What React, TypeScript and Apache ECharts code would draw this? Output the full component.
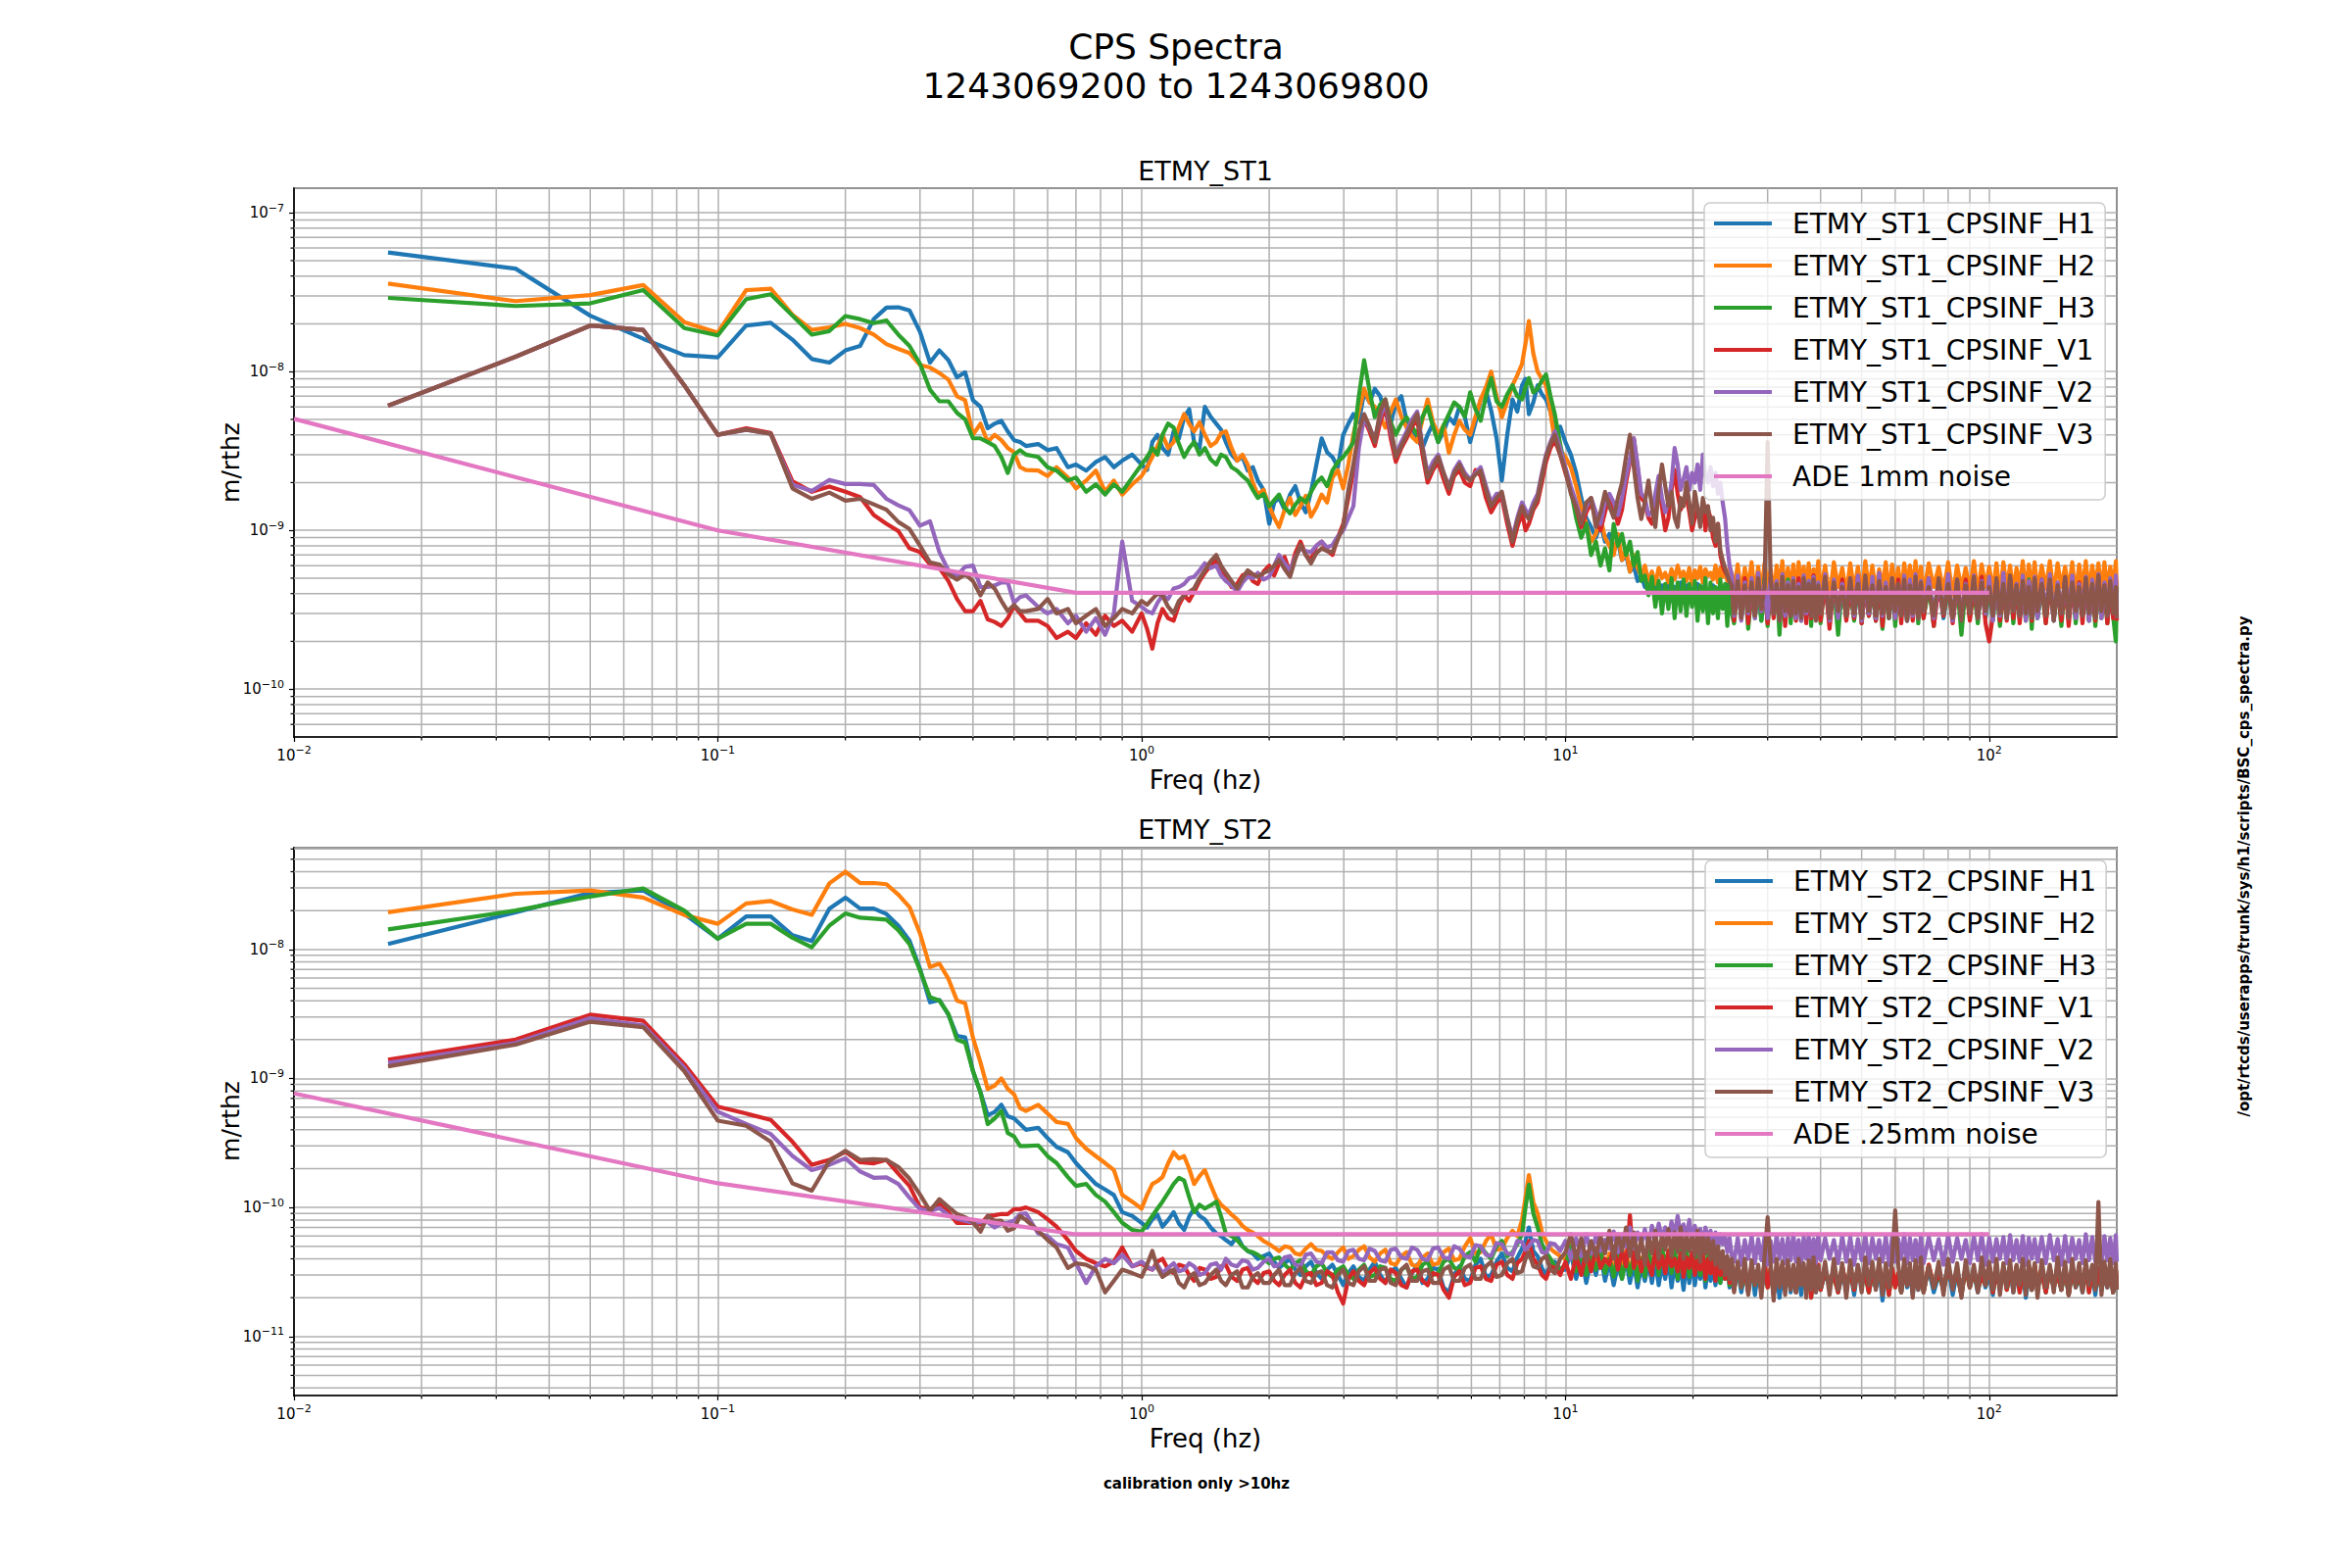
import React, { useEffect, useRef } from "react";
import * as echarts from "echarts";

// ---------- frequency bins (Hz) ----------
const FREQ = [
  // 1/60 Hz bins
  0.01667, 0.03333, 0.05, 0.06667, 0.08333, 0.1, 0.11667, 0.13333, 0.15, 0.16667,
  0.18333, 0.2, 0.21667, 0.23333, 0.25, 0.26667, 0.28333, 0.3, 0.31667, 0.33333,
  0.35, 0.36667, 0.38333, 0.4, 0.41667, 0.43333, 0.45, 0.46667, 0.48333, 0.5,
  0.51667, 0.53333,
  0.57, 0.6, 0.63, 0.67, 0.7, 0.74, 0.78, 0.82, 0.86, 0.9, 0.95,
  // 1 - 9.72 Hz
  1.0, 1.03, 1.06, 1.09, 1.12, 1.155, 1.19, 1.225, 1.26, 1.295, 1.33, 1.37, 1.41, 1.455, 1.5, 1.54, 1.58, 1.63, 1.68, 1.73,
  1.78, 1.83, 1.88, 1.94, 2.0, 2.055, 2.11, 2.175, 2.24, 2.305, 2.37, 2.44, 2.51, 2.585, 2.66, 2.74, 2.82, 2.905, 2.99, 3.075,
  3.16, 3.255, 3.35, 3.45, 3.55, 3.655, 3.76, 3.87, 3.98, 4.1, 4.22, 4.345, 4.47, 4.6, 4.73, 4.87, 5.01, 5.16, 5.31, 5.465,
  5.62, 5.79, 5.96, 6.135, 6.31, 6.495, 6.68, 6.88, 7.08, 7.29, 7.5, 7.7, 7.9, 8.05, 8.2, 8.4, 8.6, 8.8, 9.0, 9.22,
  9.44, 9.72,
  // 10 - 24.7 Hz
  10.0, 10.3, 10.6, 10.9, 11.2, 11.5, 11.8, 12.1, 12.4, 12.7, 13.0, 13.3, 13.6, 13.9, 14.2, 14.5, 14.8, 15.1, 15.4, 15.7,
  16.0, 16.3, 16.6, 16.9, 17.2, 17.5, 17.8, 18.1, 18.4, 18.7, 19.0, 19.3, 19.6, 19.9, 20.2, 20.5, 20.8, 21.1, 21.4, 21.7,
  22.0, 22.3, 22.6, 22.9, 23.2, 23.5, 23.8, 24.1, 24.4, 24.7,
  // 25 - 39.5 Hz
  25, 25.5, 26, 26.5, 27, 27.5, 28, 28.5, 29, 29.5, 30, 30.5, 31, 31.5, 32, 32.5, 33, 33.5, 34, 34.5,
  35, 35.5, 36, 36.5, 37, 37.5, 38, 38.5, 39, 39.5,
  // 40 - 69 Hz
  40, 41, 42, 43, 44, 45, 46, 47, 48, 49, 50, 51, 52, 53, 54, 55, 56, 57, 58, 59,
  60, 61, 62, 63, 64, 65, 66, 67, 68, 69,
  // 70 - 128 Hz
  70, 72, 74, 76, 78, 80, 82, 84, 86, 88, 90, 92, 94, 96, 98, 100, 102, 104, 106, 108,
  110, 112, 114, 116, 118, 120, 122, 124, 126, 128,
  // 130 - 200 Hz
  130, 133, 136, 139, 142, 145, 148, 151, 154, 157, 160, 163, 166, 169, 172, 175, 178, 181, 184, 187,
  190, 193, 196, 199, 200,
];

// ---------- ETMY_ST1 (values in units of 1e-11 m/rthz) ----------
const ST1_H1 = [
  5630, 4450, 2250, 1610, 1270, 1230, 1950, 2030, 1590, 1200, 1140, 1360, 1450, 2140, 2530, 2540, 2430, 1780, 1140, 1360, 1180, 920, 990, 660, 600, 440, 470, 490, 420, 370, 360, 340,
  350, 320, 330, 250, 260, 238, 270, 290, 250, 275, 300,
  260, 240, 360, 400, 330, 300, 420, 380, 516, 580, 360, 330, 600, 520, 470, 430, 360, 300, 275, 290,
  238, 250, 206, 180, 110, 150, 160, 135, 168, 190, 150, 130, 175, 260, 380, 310, 290, 250, 400, 470,
  540, 480, 740, 640, 780, 700, 540, 470, 635, 700, 490, 420, 380, 330, 400, 470, 360, 420, 516, 470,
  600, 520, 360, 480, 668, 760, 570, 380, 206, 400, 668, 560, 820, 900, 540, 640, 820, 720, 668, 560,
  400, 450,
  360, 300, 230, 160, 120, 105, 90, 110, 85, 95, 75, 85, 65, 70, 55, 60, 48, 52, 44, 50,
  41, 47, 38, 45, 40, 46, 36, 44, 39, 47, 35, 45, 38, 43, 36, 46, 39, 44, 35, 42,
  38, 45, 34, 43, 37, 44, 35, 46, 33, 44,
  30, 46, 28, 44, 31, 47, 29, 43, 27, 45, 32, 48, 29, 44, 30, 46, 27, 43, 31, 47, 28, 45, 30, 44, 29, 48, 31, 43, 28, 46,
  30, 45, 27, 47, 31, 44, 29, 46, 28, 43, 32, 47, 29, 45, 27, 44, 30, 48, 28, 46, 31, 43, 29, 45, 27, 47, 30, 44, 28, 46,
  29, 45, 31, 47, 28, 43, 30, 46, 27, 44, 31, 48, 29, 45, 28, 43, 30, 47, 27, 46, 29, 44, 31, 45, 28, 47, 30, 43, 29, 46,
  28, 44, 30, 47, 27, 45, 31, 43, 29, 46, 28, 48, 30, 44, 27, 45, 31, 46, 29, 43, 28, 47, 30, 44, 29,
];
const ST1_H2 = [
  3580, 2780, 3030, 3510, 2050, 1760, 3260, 3330, 2280, 1830, 1900, 2000, 1880, 1710, 1490, 1390, 1310, 1100, 1060, 980, 890, 700, 660, 400, 470, 360, 400, 370, 330, 310, 250, 240,
  238, 220, 250, 215, 184, 206, 238, 175, 206, 168, 195,
  220, 250, 290, 340, 400, 330, 360, 450, 540, 470, 420, 480, 400, 340, 360, 410, 420, 330, 275, 300,
  260, 200, 168, 180, 142, 120, 105, 135, 160, 125, 142, 165, 122, 140, 168, 150, 215, 240, 184, 260,
  400, 560, 780, 640, 600, 520, 444, 560, 668, 520, 444, 390, 360, 500, 668, 480, 400, 460, 308, 400,
  490, 430, 400, 520, 668, 800, 1000, 700, 516, 650, 820, 950, 1120, 1500, 2080, 1300, 1000, 900, 820, 560,
  360, 320,
  290, 250, 190, 140, 110, 85, 95, 120, 90, 80, 70, 95, 65, 75, 55, 70, 58, 52, 60, 48,
  55, 46, 58, 50, 54, 47, 57, 49, 60, 51, 55, 48, 58, 46, 56, 50, 59, 47, 57, 52,
  54, 49, 60, 47, 58, 51, 56, 48, 59, 53,
  42, 61, 40, 58, 44, 63, 39, 59, 41, 62, 43, 57, 38, 60, 45, 64, 40, 58, 42, 61, 39, 63, 44, 59, 41, 62, 40, 57, 43, 64,
  41, 60, 38, 63, 44, 58, 40, 62, 42, 59, 39, 64, 43, 60, 41, 57, 44, 63, 40, 61, 42, 58, 39, 62, 45, 60, 41, 64, 43, 59,
  40, 62, 44, 59, 41, 63, 39, 60, 43, 58, 42, 64, 40, 61, 44, 59, 41, 62, 39, 63, 43, 60, 41, 58, 44, 64, 40, 61, 42, 63,
  41, 60, 43, 64, 40, 62, 44, 59, 42, 63, 39, 61, 43, 64, 41, 60, 44, 62, 40, 63, 42, 59, 43, 64, 41,
];
const ST1_H3 = [
  2910, 2590, 2690, 3260, 1880, 1690, 2860, 3070, 2250, 1710, 1800, 2240, 2140, 2020, 2100, 1710, 1450, 1120, 770, 650, 650, 550, 500, 380, 380, 360, 340, 290, 230, 300, 320, 300,
  290, 250, 238, 206, 215, 175, 195, 168, 195, 175, 215,
  260, 290, 330, 300, 400, 470, 444, 350, 290, 330, 360, 300, 330, 280, 260, 300, 290, 250, 238, 220,
  206, 180, 160, 170, 142, 155, 168, 140, 128, 145, 160, 150, 175, 200, 215, 190, 238, 270, 290, 320,
  360, 700, 1180, 760, 516, 620, 668, 480, 400, 470, 516, 450, 400, 520, 600, 450, 360, 460, 540, 640,
  600, 520, 740, 580, 490, 700, 910, 650, 600, 720, 820, 700, 668, 800, 910, 740, 780, 880, 960, 700,
  540, 350,
  238, 180, 120, 90, 110, 70, 85, 60, 77, 56, 110, 80, 95, 70, 85, 60, 73, 48, 52, 39,
  51, 33, 48, 30, 46, 32, 50, 28, 47, 31, 49, 29, 46, 33, 48, 27, 45, 31, 50, 26,
  47, 30, 44, 28, 49, 32, 46, 25, 48, 30,
  26, 44, 29, 48, 24, 42, 28, 46, 27, 50, 25, 43, 30, 47, 22, 45, 28, 49, 26, 44, 29, 46, 27, 42, 30, 48, 25, 45, 28, 43,
  26, 47, 29, 44, 22, 46, 28, 42, 27, 49, 26, 45, 29, 43, 27, 46, 24, 44, 28, 47, 25, 43, 29, 46, 27, 42, 30, 48, 26, 45,
  28, 44, 25, 47, 29, 43, 27, 46, 22, 45, 28, 42, 26, 48, 29, 44, 27, 46, 25, 43, 28, 47, 26, 45, 29, 42, 27, 49, 24, 46,
  28, 44, 26, 47, 29, 43, 25, 45, 28, 48, 26, 44, 29, 42, 27, 46, 25, 45, 28, 43, 26, 47, 29, 20, 44,
];
const ST1_V1 = [
  610, 1240, 1950, 1830, 820, 400, 440, 410, 204, 175, 189, 175, 162, 125, 110, 99, 77, 73, 61, 58, 48, 37, 31, 31, 36, 27.5, 26.5, 25, 28, 33.5, 30, 27,
  27, 25, 21, 23, 21, 26, 22, 29, 25, 27, 23,
  30, 24, 18, 26, 32, 28, 27, 34, 39, 36, 41, 48, 54, 60, 65, 55, 51, 44, 46, 52,
  54, 48, 46, 55, 60, 52, 62, 68, 54, 72, 85, 70, 65, 80, 85, 75, 70, 90, 110, 160,
  238, 380, 500, 420, 340, 480, 600, 380, 270, 330, 380, 450, 500, 300, 200, 240, 270, 210, 170, 220,
  240, 200, 190, 240, 220, 160, 130, 150, 160, 110, 80, 105, 130, 100, 110, 135, 150, 200, 270, 330,
  370, 300,
  230, 180, 140, 105, 130, 150, 120, 100, 130, 165, 140, 110, 135, 200, 270, 380, 250, 160, 150, 120,
  110, 150, 195, 140, 100, 120, 180, 240, 170, 135, 150, 165, 130, 100, 120, 135, 110, 150, 100, 135,
  120, 90, 80, 110, 70, 60, 55, 52, 48, 50,
  27, 46, 30, 50, 26, 44, 29, 48, 31, 45, 26, 51, 28, 43, 30, 49, 25, 46, 29, 44, 27, 50, 30, 47, 26, 45, 28, 52, 29, 43,
  27, 48, 24, 46, 30, 49, 27, 45, 28, 51, 26, 44, 29, 47, 27, 50, 25, 46, 30, 44, 28, 49, 26, 45, 29, 48, 27, 44, 30, 46,
  28, 50, 25, 45, 29, 47, 26, 44, 30, 49, 27, 46, 28, 51, 26, 20, 29, 48, 27, 45, 27, 50, 28, 46, 26, 44, 30, 48, 27, 45,
  29, 49, 26, 46, 28, 44, 27, 50, 25, 45, 29, 47, 26, 48, 28, 44, 27, 51, 29, 46, 26, 45, 28, 49, 27,
];
const ST1_V2 = [
  610, 1240, 1950, 1830, 820, 400, 430, 405, 194, 177, 208, 196, 196, 193, 158, 144, 134, 107, 114, 73, 56, 52, 59, 60, 44, 44, 45, 47, 47, 35, 38, 39,
  33, 30, 32, 26, 29, 23, 28, 22, 30, 85, 36,
  33, 31, 30, 35, 39, 37, 43, 44, 46, 50, 51, 56, 62, 58, 60, 52, 48, 45, 41, 47,
  51, 50, 54, 49, 51, 60, 70, 62, 56, 68, 77, 74, 73, 80, 85, 78, 81, 92, 100, 120,
  142, 330, 516, 440, 380, 520, 640, 420, 300, 360, 420, 500, 560, 340, 230, 270, 300, 230, 190, 240,
  270, 230, 210, 230, 250, 190, 150, 170, 170, 120, 90, 120, 150, 135, 125, 150, 170, 230, 300, 360,
  420, 330,
  250, 190, 150, 115, 140, 160, 130, 110, 150, 170, 150, 125, 160, 220, 280, 380, 260, 170, 160, 125,
  130, 170, 220, 160, 130, 150, 200, 330, 260, 180, 210, 250, 180, 230, 200, 260, 180, 300, 220, 200,
  250, 190, 230, 170, 200, 150, 120, 80, 60, 52,
  29, 52, 27, 47, 30, 50, 28, 54, 31, 46, 28, 51, 30, 48, 27, 53, 29, 47, 31, 50, 28, 46, 27, 52, 30, 48, 29, 51, 28, 47,
  30, 53, 27, 49, 28, 46, 31, 50, 29, 52, 27, 48, 30, 51, 28, 54, 29, 47, 31, 50, 28, 46, 30, 52, 27, 49, 29, 53, 28, 48,
  31, 50, 28, 47, 30, 53, 27, 49, 29, 46, 31, 52, 28, 48, 30, 51, 27, 47, 29, 54, 28, 50, 31, 46, 29, 52, 27, 48, 30, 51,
  28, 49, 31, 53, 27, 47, 30, 50, 29, 52, 28, 46, 31, 51, 27, 49, 30, 53, 28, 47, 29, 50, 31, 52, 28,
];
const ST1_V3 = [
  610, 1240, 1950, 1830, 822, 400, 431, 406, 184, 158, 173, 154, 158, 146, 135, 113, 102, 80, 63, 61, 53, 49, 53, 48, 39, 47, 43, 36, 31, 34, 31, 31,
  32, 37, 30, 32, 26, 29, 32, 25, 28, 32, 30,
  36, 34, 37, 40, 39, 33, 30, 36, 39, 41, 43, 50, 56, 64, 70, 60, 54, 48, 43, 50,
  56, 53, 51, 54, 56, 60, 65, 57, 51, 66, 81, 70, 62, 72, 77, 74, 73, 88, 105, 180,
  260, 420, 540, 450, 360, 560, 668, 450, 290, 340, 400, 470, 540, 330, 215, 250, 290, 230, 184, 230,
  260, 220, 206, 225, 238, 180, 142, 160, 175, 120, 85, 115, 142, 125, 118, 140, 160, 220, 290, 350,
  400, 300,
  238, 170, 140, 110, 150, 160, 105, 130, 175, 142, 120, 160, 200, 290, 400, 250, 160, 118, 150, 206,
  140, 105, 180, 260, 190, 142, 175, 120, 105, 160, 142, 200, 150, 110, 175, 140, 105, 160, 130, 142,
  100, 120, 85, 110, 75, 65, 58, 52, 48, 45,
  30, 48, 28, 45, 31, 47, 29, 50, 32, 44, 360, 49, 30, 46, 27, 51, 31, 45, 29, 48, 30, 44, 28, 50, 31, 46, 29, 49, 27, 45,
  30, 51, 28, 47, 31, 44, 29, 50, 30, 46, 28, 52, 31, 45, 29, 48, 30, 44, 28, 50, 31, 46, 29, 49, 27, 45, 30, 51, 28, 47,
  31, 44, 29, 50, 30, 46, 28, 49, 27, 45, 30, 51, 28, 47, 31, 44, 29, 50, 30, 46, 28, 52, 31, 45, 29, 48, 30, 44, 28, 50,
  31, 46, 29, 49, 27, 45, 30, 51, 28, 47, 31, 44, 29, 50, 30, 46, 28, 52, 31, 45, 29, 48, 30, 44, 28,
];
const ADE_FREQ = [0.01, 0.1, 0.7, 100];
const ADE_1MM = [504, 100, 40.5, 40.5];

// ---------- ETMY_ST2 (values in units of 1e-12 m/rthz) ----------
const ST2_H1 = [
  11000, 19400, 27400, 28600, 18800, 12100, 18000, 18000, 12900, 11600, 20700, 25200, 20700, 20700, 18800, 15300, 11700, 7070, 3890, 4050, 3120, 2140, 2080, 1140, 780, 518, 550, 625, 510, 490, 443, 400,
  415, 345, 295, 268, 221, 182, 152, 138, 125, 92, 86,
  76, 70, 81, 88, 71, 80, 92, 75, 67, 85, 98, 86, 81, 70, 63, 60, 56, 52, 60, 50,
  46, 44, 40, 42, 44, 38, 34, 37, 40, 33, 30, 35, 38, 31, 28, 33, 36, 30, 25, 31,
  35, 29, 27, 33, 38, 30, 26, 32, 34, 28, 24, 31, 36, 26, 28, 34, 33, 24, 22, 30,
  35, 28, 27, 36, 40, 29, 30, 38, 44, 34, 32, 41, 48, 55, 70, 46, 42, 34, 30, 36,
  38, 33,
  33, 45, 28, 42, 26, 40, 30, 44, 27, 38, 25, 36, 28, 40, 26, 37, 24, 35, 27, 38,
  26, 39, 25, 36, 28, 41, 24, 37, 27, 35, 23, 38, 26, 40, 25, 36, 28, 39, 24, 35,
  27, 37, 25, 40, 26, 34, 28, 38, 24, 36,
  24, 34, 22, 31, 25, 35, 21, 33, 23, 30, 26, 34, 22, 32, 20, 31, 24, 35, 22, 33, 25, 30, 21, 34, 23, 32, 26, 29, 22, 35,
  23, 31, 25, 34, 22, 30, 24, 33, 21, 35, 25, 32, 22, 30, 24, 34, 19, 31, 23, 33, 25, 30, 22, 35, 24, 32, 21, 34, 23, 31,
  25, 33, 22, 30, 24, 35, 21, 32, 23, 34, 26, 31, 22, 33, 24, 30, 21, 35, 23, 32, 25, 34, 22, 31, 24, 33, 20, 30, 23, 35,
  24, 32, 22, 34, 25, 31, 23, 33, 21, 35, 24, 30, 22, 33, 25, 32, 21, 34, 23, 31, 24, 35, 22, 30, 24,
];
const ST2_H2 = [
  19400, 27000, 28600, 25200, 18500, 15800, 22700, 23700, 20400, 18500, 32500, 40000, 32700, 32700, 32000, 26600, 21300, 13300, 7300, 7760, 5930, 4010, 3820, 2070, 1330, 830, 880, 1000, 830, 755, 590, 560,
  625, 535, 460, 445, 345, 285, 250, 221, 195, 125, 111,
  98, 125, 152, 160, 172, 220, 268, 240, 250, 200, 152, 175, 195, 150, 118, 105, 98, 88, 81, 72,
  67, 64, 60, 55, 52, 49, 46, 50, 49, 44, 43, 48, 52, 47, 46, 42, 40, 45, 49, 40,
  42, 47, 50, 41, 38, 44, 47, 37, 36, 42, 45, 36, 35, 41, 44, 36, 37, 45, 48, 39,
  40, 50, 58, 44, 45, 55, 62, 47, 48, 58, 66, 60, 80, 120, 178, 110, 90, 65, 55, 48,
  45, 42,
  40, 55, 36, 48, 34, 45, 37, 50, 35, 44, 33, 42, 36, 46, 32, 43, 34, 41, 31, 40,
  35, 45, 33, 42, 36, 47, 32, 44, 34, 41, 31, 43, 35, 40, 33, 46, 32, 42, 34, 39,
  31, 41, 33, 44, 30, 40, 34, 38, 31, 37,
  24, 36, 25, 33, 23, 35, 26, 31, 24, 37, 25, 34, 22, 32, 26, 36, 24, 33, 25, 30, 23, 35, 27, 32, 24, 34, 21, 31, 25, 36,
  24, 33, 26, 30, 23, 35, 25, 32, 24, 34, 26, 31, 23, 33, 25, 36, 24, 32, 22, 34, 25, 31, 23, 35, 26, 33, 24, 30, 25, 34,
  23, 36, 25, 32, 24, 34, 26, 31, 22, 35, 25, 33, 24, 30, 26, 36, 23, 32, 25, 34, 24, 31, 26, 35, 23, 33, 25, 30, 24, 36,
  26, 32, 23, 34, 25, 31, 24, 35, 22, 33, 26, 30, 24, 36, 23, 32, 25, 34, 24, 31, 26, 35, 23, 33, 25,
];
const ST2_H3 = [
  14300, 20000, 25700, 29700, 20000, 12100, 15800, 15800, 12300, 10400, 15300, 19000, 17600, 17300, 17000, 14100, 11000, 6860, 4270, 4010, 3160, 2000, 1890, 1140, 780, 443, 490, 560, 378, 355, 300, 300,
  303, 250, 221, 172, 147, 152, 125, 111, 92, 76, 67,
  65, 75, 86, 98, 111, 130, 152, 170, 162, 120, 92, 105, 98, 104, 111, 85, 63, 60, 56, 50,
  46, 45, 43, 40, 37, 40, 41, 36, 33, 37, 39, 32, 30, 35, 37, 31, 29, 33, 35, 30,
  28, 33, 36, 29, 30, 35, 34, 28, 27, 33, 35, 28, 29, 36, 38, 30, 31, 38, 40, 34,
  33, 42, 45, 38, 50, 44, 40, 50, 55, 42, 45, 52, 62, 100, 150, 90, 70, 52, 45, 40,
  35, 33,
  36, 50, 32, 46, 30, 42, 33, 46, 31, 40, 29, 44, 28, 41, 30, 43, 27, 40, 29, 46,
  33, 48, 30, 50, 34, 46, 31, 49, 28, 47, 32, 50, 29, 45, 33, 48, 30, 46, 27, 44,
  31, 47, 28, 43, 26, 40, 28, 38, 25, 36,
  23, 35, 24, 32, 22, 34, 25, 30, 23, 36, 24, 33, 21, 31, 25, 35, 23, 32, 24, 29, 22, 34, 26, 31, 23, 33, 20, 30, 24, 35,
  23, 32, 25, 29, 22, 34, 24, 31, 23, 33, 25, 30, 22, 32, 24, 35, 23, 31, 21, 33, 24, 30, 22, 34, 25, 32, 23, 29, 24, 33,
  22, 35, 24, 31, 23, 33, 25, 30, 21, 34, 24, 32, 23, 29, 25, 35, 22, 31, 24, 33, 23, 30, 25, 34, 22, 32, 24, 29, 23, 35,
  25, 31, 22, 33, 24, 30, 23, 34, 21, 32, 25, 29, 23, 35, 22, 31, 24, 33, 23, 30, 25, 34, 22, 32, 24,
];
const ST2_V1 = [
  1400, 2000, 3120, 2800, 1290, 605, 534, 477, 323, 214, 234, 270, 224, 220, 234, 183, 147, 100, 97, 107, 92, 76, 76, 76, 74, 86, 87, 89, 89, 97, 97, 100,
  92, 81, 71, 56, 46, 40, 37, 35, 38, 49, 35,
  37, 34, 33, 38, 40, 33, 31, 36, 35, 30, 27, 34, 33, 28, 29, 35, 36, 29, 27, 33,
  34, 28, 26, 31, 32, 27, 25, 30, 33, 26, 24, 30, 31, 25, 26, 32, 30, 22, 18, 28,
  32, 27, 25, 31, 34, 28, 26, 33, 31, 25, 24, 32, 33, 27, 25, 31, 30, 23, 20, 29,
  32, 25, 26, 34, 35, 28, 27, 36, 38, 30, 28, 37, 40, 46, 55, 40, 36, 30, 28, 35,
  34, 30,
  38, 28, 42, 30, 45, 32, 48, 34, 40, 36, 50, 33, 46, 35, 87, 34, 45, 32, 44, 36,
  30, 48, 34, 42, 31, 46, 35, 40, 32, 44, 29, 41, 34, 45, 30, 39, 33, 43, 28, 40,
  31, 38, 27, 42, 30, 36, 28, 39, 26, 35,
  23, 36, 25, 33, 22, 35, 26, 31, 23, 37, 24, 34, 21, 32, 25, 36, 23, 33, 24, 30, 22, 35, 26, 32, 23, 34, 20, 31, 24, 36,
  23, 33, 25, 30, 22, 35, 24, 32, 23, 34, 25, 31, 22, 33, 24, 36, 23, 32, 21, 34, 24, 31, 22, 35, 25, 33, 23, 30, 24, 34,
  22, 36, 24, 32, 23, 34, 25, 31, 21, 35, 24, 33, 23, 30, 25, 36, 22, 32, 24, 34, 23, 31, 25, 35, 22, 33, 24, 30, 23, 36,
  25, 32, 22, 34, 24, 31, 23, 35, 21, 33, 25, 30, 23, 36, 22, 32, 24, 34, 23, 31, 25, 35, 22, 33, 24,
];
const ST2_V2 = [
  1320, 1880, 2930, 2580, 1210, 552, 443, 371, 251, 195, 214, 241, 190, 170, 171, 152, 119, 97, 94, 99, 87, 82, 79, 76, 77, 77, 70, 75, 76, 79, 89, 90,
  63, 60, 52, 49, 37, 26, 35, 40, 37, 43, 35,
  38, 35, 33, 36, 31, 34, 37, 32, 33, 37, 35, 30, 31, 36, 37, 33, 40, 36, 35, 39,
  38, 33, 34, 38, 40, 35, 36, 41, 42, 36, 35, 43, 44, 38, 37, 45, 45, 39, 38, 46,
  47, 40, 39, 48, 46, 39, 38, 47, 48, 41, 40, 49, 47, 40, 39, 48, 49, 41, 40, 50,
  48, 42, 41, 51, 50, 43, 42, 53, 52, 44, 43, 55, 54, 47, 50, 56, 55, 45, 44, 53,
  52, 46,
  55, 40, 58, 42, 62, 44, 60, 46, 56, 48, 65, 45, 62, 50, 70, 48, 64, 52, 68, 50,
  72, 54, 75, 58, 70, 55, 78, 60, 86, 62, 74, 58, 80, 55, 72, 60, 68, 52, 70, 56,
  66, 50, 64, 48, 62, 52, 60, 45, 58, 42,
  38, 58, 36, 56, 40, 60, 37, 57, 39, 59, 36, 55, 38, 61, 40, 57, 37, 58, 39, 62, 38, 56, 36, 59, 40, 60, 38, 57, 37, 61,
  39, 58, 40, 56, 37, 60, 38, 59, 36, 57, 39, 61, 37, 58, 40, 56, 38, 60, 36, 59, 38, 57, 40, 62, 37, 58, 39, 56, 38, 60,
  37, 59, 39, 57, 36, 61, 38, 58, 40, 56, 37, 60, 39, 62, 36, 58, 38, 57, 40, 59, 37, 61, 39, 56, 38, 60, 36, 58, 40, 57,
  38, 59, 37, 61, 39, 57, 36, 60, 38, 58, 40, 56, 37, 62, 39, 59, 38, 57, 36, 60, 39, 58, 37, 61, 38,
];
const ST2_V3 = [
  1240, 1830, 2750, 2500, 1140, 471, 430, 323, 154, 135, 229, 275, 234, 237, 234, 206, 167, 126, 94, 116, 101, 89, 84, 77, 65, 86, 79, 79, 66, 69, 86, 80,
  66, 56, 49, 34, 37, 36, 33, 22, 27, 33, 31,
  29, 36, 46, 34, 29, 31, 33, 26, 24, 29, 31, 25, 26, 30, 33, 27, 25, 30, 32, 24,
  24, 29, 31, 26, 26, 30, 33, 25, 25, 31, 34, 27, 26, 31, 32, 25, 24, 30, 33, 26,
  25, 32, 35, 27, 27, 33, 34, 26, 25, 33, 36, 27, 27, 32, 33, 26, 26, 33, 35, 27,
  27, 34, 36, 28, 28, 35, 38, 29, 30, 37, 40, 31, 32, 40, 45, 35, 34, 40, 42, 33,
  31, 40,
  45, 62, 40, 58, 38, 55, 42, 60, 44, 66, 40, 62, 46, 70, 42, 64, 40, 58, 36, 60,
  44, 66, 40, 62, 47, 68, 42, 64, 45, 70, 40, 63, 46, 60, 42, 66, 38, 62, 44, 58,
  40, 55, 36, 50, 34, 46, 30, 42, 28, 40,
  22, 38, 24, 40, 21, 39, 25, 36, 20, 41, 84, 37, 19, 40, 24, 38, 21, 39, 23, 36, 22, 40, 25, 37, 20, 39, 23, 41, 22, 35,
  24, 38, 21, 40, 23, 37, 20, 39, 24, 36, 22, 41, 25, 38, 23, 40, 21, 37, 24, 39, 95, 36, 22, 40, 25, 37, 20, 39, 23, 41,
  22, 35, 24, 38, 21, 40, 23, 37, 20, 39, 24, 36, 22, 41, 25, 38, 23, 40, 21, 37, 24, 39, 22, 36, 25, 40, 21, 38, 23, 37,
  20, 39, 24, 36, 22, 41, 23, 38, 21, 40, 24, 37, 22, 39, 25, 36, 23, 110, 21, 38, 24, 40, 22, 37, 23,
];
const ADE_025MM = [766, 154, 62, 62];

// ---------- axes ----------
const X_RANGE = [0.01, 200];
const Y1_RANGE = [5.0, 14300];   // 5e-11 .. 1.43e-7 m/rthz
const Y2_RANGE = [3.49, 61400];  // 3.49e-12 .. 6.14e-8 m/rthz
const Y1_EXP_OFFSET = -11;
const Y2_EXP_OFFSET = -12;
const X_MINOR = [
  0.02, 0.03, 0.04, 0.05, 0.06, 0.07, 0.08, 0.09,
  0.2, 0.3, 0.4, 0.5, 0.6, 0.7, 0.8, 0.9,
  2, 3, 4, 5, 6, 7, 8, 9,
  20, 30, 40, 50, 60, 70, 80, 90,
];
const Y1_MINOR = [6, 7, 8, 9, 20, 30, 40, 50, 60, 70, 80, 90, 200, 300, 400, 500, 600, 700, 800, 900, 2000, 3000, 4000, 5000, 6000, 7000, 8000, 9000];
const Y2_MINOR = [4, 5, 6, 7, 8, 9, 20, 30, 40, 50, 60, 70, 80, 90, 200, 300, 400, 500, 600, 700, 800, 900, 2000, 3000, 4000, 5000, 6000, 7000, 8000, 9000, 20000, 30000, 40000, 50000, 60000];

const NAMES_ST1 = ["ETMY_ST1_CPSINF_H1", "ETMY_ST1_CPSINF_H2", "ETMY_ST1_CPSINF_H3", "ETMY_ST1_CPSINF_V1", "ETMY_ST1_CPSINF_V2", "ETMY_ST1_CPSINF_V3", "ADE 1mm noise"];
const NAMES_ST2 = ["ETMY_ST2_CPSINF_H1", "ETMY_ST2_CPSINF_H2", "ETMY_ST2_CPSINF_H3", "ETMY_ST2_CPSINF_V1", "ETMY_ST2_CPSINF_V2", "ETMY_ST2_CPSINF_V3", "ADE .25mm noise"];
const COLORS = ["#1f77b4", "#ff7f0e", "#2ca02c", "#d62728", "#9467bd", "#8c564b", "#e377c2"];

const FONT = "DejaVu Sans";
const GRID_COLOR = "#b0b0b0";
const LINE_W = 4.2;

function pts(fs: number[], ys: number[]) {
  const n = Math.min(fs.length, ys.length);
  const out: number[][] = [];
  for (let i = 0; i < n; i++) out.push([fs[i], ys[i]]);
  return out;
}

function supLabel(offset: number) {
  return (value: number) => {
    const l = Math.log10(value);
    const e = Math.round(l);
    if (Math.abs(l - e) > 1e-6) return "";
    const ex = e + offset;
    return "{b|10}{s|" + (ex < 0 ? "\u2212" + -ex : String(ex)) + "}";
  };
}

const labelRich = {
  b: { fontFamily: FONT, fontSize: 15, color: "#000" },
  s: { fontFamily: FONT, fontSize: 11, color: "#000", padding: [0, 0, 10, 0] },
};

function minorSeries(gi: number, xr: number[], yr: number[], ys: number[]) {
  const data: number[][] = [];
  X_MINOR.forEach((v) => data.push([v, yr[0] * 2, 0]));
  ys.forEach((v) => data.push([xr[0] * 2, v, 1]));
  return {
    type: "custom",
    xAxisIndex: gi,
    yAxisIndex: gi,
    silent: true,
    clip: false,
    z: 1,
    dimensions: ["x", "y", "k"],
    encode: { x: 0, y: 1 },
    data,
    renderItem: (_params: any, api: any) => {
      const k = api.value(2);
      if (k === 0) {
        const v = api.value(0);
        const a = api.coord([v, yr[0]]);
        const b = api.coord([v, yr[1]]);
        return {
          type: "group",
          children: [
            { type: "line", shape: { x1: a[0], y1: a[1], x2: b[0], y2: b[1] }, style: { stroke: GRID_COLOR, lineWidth: 1.5 } },
            { type: "line", shape: { x1: a[0], y1: a[1], x2: a[0], y2: a[1] + 3.5 }, style: { stroke: "#000", lineWidth: 1.2 } },
          ],
        };
      }
      const v = api.value(1);
      const a = api.coord([xr[0], v]);
      const b = api.coord([xr[1], v]);
      return {
        type: "group",
        children: [
          { type: "line", shape: { x1: a[0], y1: a[1], x2: b[0], y2: b[1] }, style: { stroke: GRID_COLOR, lineWidth: 1.5 } },
          { type: "line", shape: { x1: a[0] - 3.5, y1: a[1], x2: a[0], y2: a[1] }, style: { stroke: "#000", lineWidth: 1.2 } },
        ],
      };
    },
  };
}

function lineSeries(name: string, color: string, gi: number, data: number[][]) {
  return {
    type: "line",
    name,
    xAxisIndex: gi,
    yAxisIndex: gi,
    data,
    showSymbol: false,
    symbol: "none",
    silent: true,
    color,
    z: 2,
    lineStyle: { width: LINE_W, color, join: "round", cap: "butt" },
    itemStyle: { color },
  };
}

function xAxis(gi: number) {
  return {
    type: "log",
    logBase: 10,
    gridIndex: gi,
    min: X_RANGE[0],
    max: X_RANGE[1],
    axisLine: { show: true, lineStyle: { color: "#000", width: 1.6 } },
    axisTick: { show: true, inside: false, length: 5, lineStyle: { color: "#000", width: 1.2 } },
    axisLabel: { formatter: supLabel(0), rich: labelRich, margin: 8, showMaxLabel: false, color: "#000" },
    splitLine: { show: true, lineStyle: { color: GRID_COLOR, width: 1.5 } },
  };
}

function yAxis(gi: number, r: number[], off: number) {
  return {
    type: "log",
    logBase: 10,
    gridIndex: gi,
    min: r[0],
    max: r[1],
    axisLine: { show: true, lineStyle: { color: "#000", width: 1.6 } },
    axisTick: { show: true, inside: false, length: 5, lineStyle: { color: "#000", width: 1.2 } },
    axisLabel: { formatter: supLabel(off), rich: labelRich, margin: 10, showMinLabel: false, showMaxLabel: false, color: "#000" },
    splitLine: { show: true, lineStyle: { color: GRID_COLOR, width: 1.5 } },
  };
}

function legend(names: string[], left: number, top: number) {
  return {
    data: names,
    orient: "vertical",
    left,
    top,
    icon: "rect",
    itemWidth: 59,
    itemHeight: 4,
    itemGap: 15,
    padding: [7, 10, 10, 10],
    backgroundColor: "rgba(255,255,255,0.8)",
    borderColor: "#cccccc",
    borderWidth: 1.5,
    borderRadius: 6,
    selectedMode: false,
    formatter: (n: string) => "{t|" + n + "}",
    textStyle: {
      fontFamily: FONT,
      fontSize: 28,
      color: "#000",
      rich: { t: { fontFamily: FONT, fontSize: 28, lineHeight: 28, color: "#000", padding: [0, 0, 0, 16] } },
    },
  };
}

function text(t: string, x: number, y: number, size: number, opts: any = {}) {
  return {
    type: "text",
    x,
    y,
    rotation: opts.rotation || 0,
    silent: true,
    style: {
      text: t,
      fill: "#000",
      fontFamily: FONT,
      fontSize: size,
      fontWeight: opts.bold ? "bold" : "normal",
      align: "center",
      verticalAlign: "middle",
      textAlign: "center",
      textVerticalAlign: "middle",
    },
  };
}

export default function App() {
  const ref = useRef<HTMLDivElement>(null);
  useEffect(() => {
    document.body.style.margin = "0";
    const chart = echarts.init(ref.current as HTMLDivElement, null, { renderer: "svg", width: 2400, height: 1600 });
    const st1 = [ST1_H1, ST1_H2, ST1_H3, ST1_V1, ST1_V2, ST1_V3];
    const st2 = [ST2_H1, ST2_H2, ST2_H3, ST2_V1, ST2_V2, ST2_V3];
    const series: any[] = [minorSeries(0, X_RANGE, Y1_RANGE, Y1_MINOR), minorSeries(1, X_RANGE, Y2_RANGE, Y2_MINOR)];
    st1.forEach((ys, i) => series.push(lineSeries(NAMES_ST1[i], COLORS[i], 0, pts(FREQ, ys))));
    series.push(lineSeries(NAMES_ST1[6], COLORS[6], 0, pts(ADE_FREQ, ADE_1MM)));
    st2.forEach((ys, i) => series.push(lineSeries(NAMES_ST2[i], COLORS[i], 1, pts(FREQ, ys))));
    series.push(lineSeries(NAMES_ST2[6], COLORS[6], 1, pts(ADE_FREQ, ADE_025MM)));

    chart.setOption({
      animation: false,
      backgroundColor: "#ffffff",
      textStyle: { fontFamily: FONT },
      title: [
        {
          text: "CPS Spectra\n1243069200 to 1243069800",
          left: "center",
          top: 27,
          padding: 0,
          textStyle: { fontFamily: FONT, fontSize: 36, lineHeight: 40, fontWeight: "normal", color: "#000" },
        },
      ],
      grid: [
        { left: 300, top: 192, width: 1860, height: 560, show: true, borderColor: "#000", borderWidth: 1.6, backgroundColor: "transparent" },
        { left: 300, top: 865, width: 1860, height: 559, show: true, borderColor: "#000", borderWidth: 1.6, backgroundColor: "transparent" },
      ],
      xAxis: [xAxis(0), xAxis(1)],
      yAxis: [yAxis(0, Y1_RANGE, Y1_EXP_OFFSET), yAxis(1, Y2_RANGE, Y2_EXP_OFFSET)],
      legend: [legend(NAMES_ST1, 1739, 207), legend(NAMES_ST2, 1740, 878)],
      series,
      graphic: [
        text("ETMY_ST1", 1230, 174, 27),
        text("ETMY_ST2", 1230, 846, 27),
        text("Freq (hz)", 1230, 796, 26),
        text("Freq (hz)", 1230, 1468, 26),
        text("m/rthz", 235, 472, 25, { rotation: Math.PI / 2 }),
        text("m/rthz", 235, 1144, 25, { rotation: Math.PI / 2 }),
        text("calibration only >10hz", 1221, 1514, 15, { bold: true }),
        text("/opt/rtcds/userapps/trunk/sys/h1/scripts/BSC_cps_spectra.py", 2290, 884, 15, { bold: true, rotation: Math.PI / 2 }),
      ],
    });
    return () => chart.dispose();
  }, []);
  return <div ref={ref} style={{ width: 2400, height: 1600 }} />;
}
